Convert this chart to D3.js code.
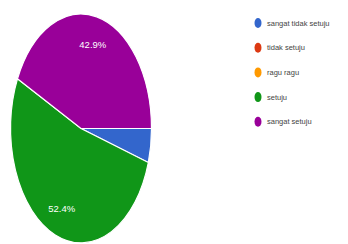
<!DOCTYPE html>
<html>
<head>
<meta charset="utf-8">
<script src="https://cdn.jsdelivr.net/npm/d3@7"></script>
<style>
html,body{margin:0;padding:0;background:#fff;}
svg{display:block;}
</style>
</head>
<body>
<svg id="chart" width="348" height="244"></svg>
<script>
const categories = ["sangat tidak setuju", "tidak setuju", "ragu ragu", "setuju", "sangat setuju"];
const values = [4.8, 0, 0, 52.4, 42.9];
const colors = ["#3366cc", "#dc3912", "#ff9900", "#109618", "#990099"];

const svg = d3.select("#chart");
const cx = 81, cy = 128.5, rx = 70.5, ry = 114.5;

const pie = d3.pie().sort(null).value(d => d)
  .startAngle(Math.PI / 2).endAngle(Math.PI / 2 + 2 * Math.PI);
const arcs = pie(values);
const arc = d3.arc().innerRadius(0).outerRadius(1);
const labelArc = d3.arc().innerRadius(0.75).outerRadius(0.75);

const g = svg.append("g").attr("transform", `translate(${cx},${cy})`);
const pg = g.append("g").attr("transform", `scale(${rx},${ry})`);
pg.selectAll("path").data(arcs).enter().append("path")
  .attr("d", arc)
  .attr("fill", (d, i) => colors[i])
  .attr("stroke", "#ffffff")
  .attr("stroke-width", 1.2)
  .attr("vector-effect", "non-scaling-stroke")
  .style("display", d => d.value > 0 ? null : "none");

g.selectAll("text").data(arcs.filter(d => d.value > 10)).enter().append("text")
  .attr("x", d => labelArc.centroid(d)[0] * rx)
  .attr("y", d => labelArc.centroid(d)[1] * ry)
  .attr("text-anchor", "middle")
  .attr("dominant-baseline", "central")
  .attr("font-family", "Arial, 'Liberation Sans', sans-serif")
  .attr("font-size", 9.5)
  .attr("fill", "#ffffff")
  .text(d => d.value.toFixed(1) + "%");

const legend = svg.append("g").attr("transform", "translate(258,23)");
const ly = d3.scaleBand().domain(categories).range([0, 123.5]).paddingInner(0);
const item = legend.selectAll("g").data(categories).enter().append("g")
  .attr("transform", d => `translate(0,${ly(d)})`);
item.append("ellipse").attr("rx", 3.5).attr("ry", 5)
  .attr("fill", (d, i) => colors[i]);
item.append("text").attr("x", 9).attr("y", 0)
  .attr("dominant-baseline", "central")
  .attr("font-family", "Arial, 'Liberation Sans', sans-serif")
  .attr("font-size", 7.5)
  .attr("fill", "#444")
  .text(d => d);
</script>
</body>
</html>
